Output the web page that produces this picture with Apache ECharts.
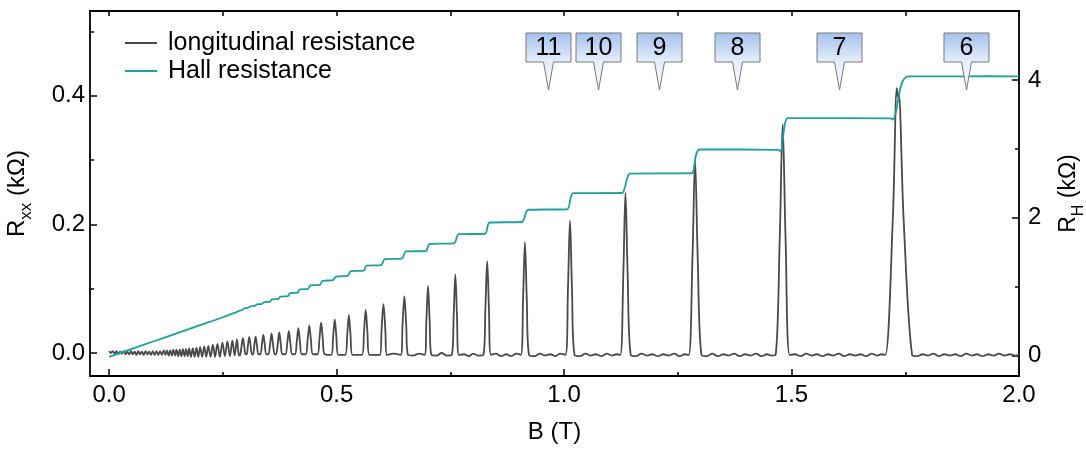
<!DOCTYPE html>
<html><head><meta charset="utf-8">
<script src="https://cdn.jsdelivr.net/npm/echarts@6/dist/echarts.min.js"></script>
<style>html,body{margin:0;padding:0;background:#fff}#c{width:1086px;height:450px}</style>
</head><body><div id="c"></div>
<script>
const xMajorTicks = [0, 0.5, 1.0, 1.5, 2.0];
const xMinorTicks = [0.25, 0.75, 1.25, 1.75];
const xTopTicks = [0, 0.25, 0.5, 0.75, 1.0, 1.25, 1.5, 1.75, 2.0];
const rxxMajorTicks = [0, 0.2, 0.4];
const rxxMinorTicks = [0.1, 0.3, 0.5];
const rhMajorTicks = [0, 2, 4];
const rhMinorTicks = [1, 3];
const legendNames = ['longitudinal resistance', 'Hall resistance'];
const calloutB = [0.964, 1.075, 1.209, 1.381, 1.605, 1.884];
const calloutTip = [0.409, 0.409, 0.409, 0.409, 0.409, 0.409];
const calloutLabels = ['11', '10', '9', '8', '7', '6'];

// longitudinal resistance Rxx (kOhm) vs B (T)
const rxxData = [
[0,0.003],[0.004,0.0],[0.008,0.003],[0.012,-0.001],[0.016,0.003],[0.02,-0.002],[0.024,0.002],[0.028,-0.001],[0.032,0.003],[0.036,-0.002],[0.04,0.002],[0.044,-0.002],[0.048,0.003],[0.052,-0.002],[0.056,0.002],[0.06,-0.003],[0.064,0.003],[0.068,-0.002],[0.072,0.002],[0.076,-0.003],[0.08,0.003],[0.084,-0.002],[0.088,0.002],[0.092,-0.003],[0.096,0.003],[0.1,-0.003],[0.104,0.003],[0.108,-0.003],[0.112,0.003],[0.116,-0.003],[0.12,0.004],
[0.124,-0.003],[0.127,0.004],[0.131,-0.004],[0.134,0.004],[0.138,-0.004],[0.141,0.005],[0.145,-0.004],[0.148,0.005],[0.152,-0.005],[0.155,0.005],[0.159,-0.005],[0.162,0.006],[0.166,-0.005],[0.169,0.006],[0.173,-0.005],[0.176,0.007],[0.18,-0.006],[0.184,0.007],[0.188,-0.006],[0.192,0.008],[0.196,-0.006],[0.2,0.009],
[0.2045,-0.006],[0.209,0.010],[0.2135,-0.006],[0.218,0.011],[0.223,-0.006],[0.228,0.013],[0.233,-0.006],[0.238,0.014],[0.2435,-0.006],[0.249,0.016],[0.2545,-0.005],[0.26,0.018],[0.2655,-0.005],[0.271,0.019],[0.276,-0.004],[0.281,0.021],[0.2855,-0.004],
[0.288,-0.003],[0.2912,0.0115],[0.294,0.023],[0.2968,0.0115],[0.300,-0.002],
[0.3025,-0.002],[0.3052,0.0122],[0.308,0.0245],[0.3108,0.0122],[0.314,-0.002],
[0.3165,-0.002],[0.3192,0.0128],[0.322,0.0255],[0.3248,0.0128],[0.3285,-0.002],
[0.3325,-0.002],[0.336,0.014],[0.339,0.028],[0.342,0.014],[0.3455,-0.002],
[0.350,-0.002],[0.354,0.015],[0.357,0.030],[0.360,0.015],[0.364,-0.002],
[0.367,-0.002],[0.371,0.016],[0.374,0.032],[0.377,0.016],[0.381,-0.002],
[0.3875,-0.002],[0.3918,0.017],[0.395,0.034],[0.3982,0.017],[0.4025,-0.002],
[0.4085,-0.002],[0.4127,0.019],[0.416,0.0385],[0.4193,0.019],[0.4235,-0.002],
[0.432,-0.002],[0.4365,0.021],[0.440,0.0425],[0.4435,0.021],[0.448,-0.002],
[0.458,-0.002],[0.4625,0.0235],[0.466,0.047],[0.4695,0.0235],[0.474,-0.002],
[0.488,-0.003],[0.4925,0.026],[0.496,0.052],[0.4995,0.026],[0.504,-0.003],
[0.519,-0.003],[0.5235,0.0295],[0.527,0.059],[0.5305,0.0295],[0.535,-0.003],
[0.556,-0.003],[0.5603,0.0335],[0.564,0.067],[0.5677,0.0335],[0.572,-0.003],
[0.595,-0.003],[0.599,0.038],[0.603,0.076],[0.607,0.038],[0.611,-0.003],
[0.626,-0.001],
[0.641,-0.003],[0.645,0.044],[0.649,0.088],[0.653,0.044],[0.657,-0.003],
[0.668,-0.004],[0.681,-0.001],
[0.6935,-0.003],[0.6975,0.052],[0.701,0.104],[0.7045,0.052],[0.7085,-0.003],
[0.72,-0.004],[0.731,0.0],[0.742,-0.004],
[0.753,-0.003],[0.7575,0.061],[0.761,0.122],[0.7645,0.061],[0.769,-0.003],
[0.78,-0.002],[0.791,-0.005],[0.80,-0.001],[0.811,-0.004],
[0.8225,-0.003],[0.8272,0.0715],[0.831,0.143],[0.8348,0.0715],[0.8395,-0.003],
[0.85,-0.001],[0.862,-0.005],[0.873,-0.002],[0.884,-0.005],[0.895,-0.001],
[0.905,-0.003],[0.910,0.086],[0.914,0.172],[0.918,0.086],[0.923,-0.003],
[0.935,-0.005],[0.947,-0.001],[0.958,-0.004],[0.97,-0.002],[0.981,-0.005],[0.992,-0.001],
[1.003,-0.003],[1.0087,0.103],[1.013,0.206],[1.0173,0.103],[1.023,-0.003],
[1.035,-0.005],[1.047,-0.001],[1.058,-0.004],[1.07,-0.002],[1.082,-0.005],[1.094,-0.001],[1.105,-0.004],[1.115,-0.002],
[1.1235,-0.003],[1.1303,0.1245],[1.135,0.249],[1.1397,0.1245],[1.1465,-0.003],
[1.158,-0.005],[1.17,-0.001],[1.182,-0.004],[1.194,-0.002],[1.206,-0.005],[1.218,-0.002],[1.23,-0.004],[1.242,-0.001],[1.254,-0.005],[1.265,-0.002],
[1.274,-0.003],[1.2823,0.15],[1.288,0.300],[1.2937,0.15],[1.302,-0.003],
[1.314,-0.005],[1.326,-0.001],[1.338,-0.005],[1.35,-0.002],[1.362,-0.004],[1.374,-0.001],[1.386,-0.005],[1.398,-0.002],[1.41,-0.004],[1.422,-0.001],[1.434,-0.005],[1.446,-0.002],[1.456,-0.004],
[1.465,-0.003],[1.4741,0.178],[1.4805,0.356],[1.4869,0.178],[1.496,-0.003],
[1.508,-0.002],[1.52,-0.005],[1.532,-0.001],[1.544,-0.004],[1.556,-0.002],[1.568,-0.005],[1.58,-0.002],[1.592,-0.004],[1.604,-0.001],[1.616,-0.005],[1.628,-0.002],[1.64,-0.004],[1.652,-0.002],[1.664,-0.005],[1.676,-0.001],[1.688,-0.004],[1.698,-0.002],
[1.706,-0.003],[1.7225,0.206],[1.7315,0.412],[1.7335,0.398],[1.7355,0.404],[1.7465,0.206],[1.765,-0.003],
[1.776,-0.005],[1.788,-0.002],[1.80,-0.004],[1.812,-0.001],[1.824,-0.005],[1.836,-0.002],[1.848,-0.004],[1.86,-0.002],[1.872,-0.005],[1.884,-0.001],[1.896,-0.004],[1.908,-0.002],[1.92,-0.005],[1.932,-0.002],[1.944,-0.004],[1.956,-0.001],[1.968,-0.004],[1.98,-0.002],[1.992,-0.004],[2.0,-0.003]
];

// Hall resistance RH (kOhm) vs B (T)
const hallData = [
[0,-0.02],[0.05,0.095],[0.1,0.21],[0.15,0.325],[0.2,0.44],[0.25,0.555],[0.28,0.63],[0.292,0.66],[0.298,0.685],[0.305,0.692],
[0.310,0.712],[0.320,0.719],[0.3245,0.742],[0.336,0.748],[0.3405,0.776],[0.354,0.782],[0.358,0.815],[0.372,0.821],
[0.3765,0.854],[0.393,0.860],[0.3975,0.905],[0.414,0.912],[0.4195,0.958],[0.437,0.966],[0.4425,1.016],[0.463,1.024],
[0.4695,1.084],[0.492,1.092],[0.4985,1.146],[0.524,1.154],[0.5315,1.223],[0.560,1.231],[0.5655,1.305],[0.598,1.312],
[0.606,1.398],[0.643,1.405],[0.653,1.510],[0.696,1.516],[0.7045,1.621],[0.758,1.628],[0.7685,1.760],[0.826,1.767],
[0.8365,1.930],[0.907,1.937],[0.9215,2.115],[1.006,2.122],[1.0205,2.355],[1.127,2.358],[1.134,2.45],[1.139,2.58],
[1.145,2.64],[1.281,2.645],[1.285,2.70],[1.289,2.88],[1.294,2.975],[1.300,2.99],[1.470,2.985],[1.476,2.965],
[1.481,3.15],[1.486,3.38],[1.492,3.445],[1.718,3.44],[1.723,3.425],[1.730,3.55],[1.740,3.90],[1.748,4.02],
[1.758,4.05],[1.85,4.05],[1.93,4.055],[2.0,4.05]
];

const FONT = '"Liberation Sans", Arial, sans-serif';
const X_MIN = -0.042, X_MAX = 2.0;
const RXX_MIN = -0.0358, RXX_MAX = 0.532;
const RH_MIN = -0.298, RH_MAX = 5.0;

const chart = echarts.init(document.getElementById('c'), null, {renderer: 'canvas'});

const axisLineStyle = {color: '#000', width: 1.8};
const tickStyle = {color: '#000', width: 1.5};

function xAxisBase(extra) {
  return Object.assign({
    type: 'value', min: X_MIN, max: X_MAX,
    splitLine: {show: false},
    axisLine: {show: false, onZero: false, lineStyle: axisLineStyle}
  }, extra);
}
function yAxisBase(min, max, extra) {
  return Object.assign({
    type: 'value', min: min, max: max,
    splitLine: {show: false},
    axisLine: {show: false, onZero: false, lineStyle: axisLineStyle}
  }, extra);
}

function renderCallout(params, api) {
  const p = api.coord([api.value(0), api.value(1)]);
  const x = Math.round(p[0]) + 0.5, y = Math.round(p[1]);
  const bw = 22.5, boxTop = y - 57, boxBot = y - 28, pw = 5;
  return {
    type: 'group',
    children: [
      {
        type: 'polygon',
        shape: {points: [[x - bw, boxTop], [x + bw, boxTop], [x + bw, boxBot], [x + pw, boxBot], [x, y], [x - pw, boxBot], [x - bw, boxBot]]},
        style: {
          fill: new echarts.graphic.LinearGradient(0, 0, 0, 1, [
            {offset: 0, color: '#a4c1ee'}, {offset: 0.5, color: '#e4edfa'}, {offset: 1, color: '#fbfcff'}
          ]),
          stroke: '#7a7a7a', lineWidth: 1
        }
      },
      {
        type: 'text',
        style: {
          text: calloutLabels[params.dataIndex], x: x, y: (boxTop + boxBot) / 2 + 1,
          align: 'center', verticalAlign: 'middle', fontSize: 25, fill: '#000', fontFamily: FONT
        }
      }
    ]
  };
}

const subRich = function (big, small) {
  return {
    r: {fontSize: big, fontFamily: FONT, color: '#000', lineHeight: 28},
    s: {fontSize: small, fontFamily: FONT, color: '#000', lineHeight: 28, verticalAlign: 'bottom', padding: [0, 0, -4, 0]}
  };
};

const option = {
  animation: false,
  backgroundColor: '#fff',
  textStyle: {fontFamily: FONT},
  grid: {left: 90, right: 67, top: 11, bottom: 74, containLabel: false, outerBoundsMode: 'none'},
  legend: {
    orient: 'vertical', left: 120, top: 24, itemWidth: 32, itemHeight: 2, itemGap: 0,
    icon: 'rect',
    data: legendNames,
    textStyle: {fontSize: 25, lineHeight: 28, color: '#000', fontFamily: FONT, padding: [0, 0, 0, 6]}
  },
  xAxis: [
    xAxisBase({
      position: 'bottom',
      axisLine: {show: true, onZero: false, lineStyle: axisLineStyle},
      axisTick: {show: true, inside: true, length: 7, customValues: xMajorTicks, lineStyle: tickStyle},
      axisLabel: {show: true, customValues: xMajorTicks, margin: 7, fontSize: 24, color: '#000', fontFamily: FONT,
        formatter: v => v.toFixed(1)},
      name: 'B (T)', nameLocation: 'middle', nameGap: 44,
      nameTextStyle: {fontSize: 24, color: '#000', fontFamily: FONT}
    }),
    xAxisBase({
      position: 'bottom',
      axisTick: {show: true, inside: true, length: 4, customValues: xMinorTicks, lineStyle: tickStyle},
      axisLabel: {show: false}
    }),
    xAxisBase({
      position: 'top',
      axisLine: {show: true, onZero: false, lineStyle: axisLineStyle},
      axisTick: {show: true, inside: true, length: 5, customValues: xTopTicks, lineStyle: tickStyle},
      axisLabel: {show: false}
    })
  ],
  yAxis: [
    yAxisBase(RXX_MIN, RXX_MAX, {
      position: 'left',
      axisLine: {show: true, onZero: false, lineStyle: axisLineStyle},
      axisTick: {show: true, inside: true, length: 7, customValues: rxxMajorTicks, lineStyle: tickStyle},
      axisLabel: {show: true, customValues: rxxMajorTicks, margin: 5, fontSize: 24, color: '#000', fontFamily: FONT,
        formatter: v => v.toFixed(1)},
      name: '{r|R}{s|xx}{r| (kΩ)}', nameLocation: 'middle', nameGap: 59, nameRotate: 90,
      nameTextStyle: {fontFamily: FONT, color: '#000', rich: subRich(24, 17)}
    }),
    yAxisBase(RXX_MIN, RXX_MAX, {
      position: 'left',
      axisTick: {show: true, inside: true, length: 4, customValues: rxxMinorTicks, lineStyle: tickStyle},
      axisLabel: {show: false}
    }),
    yAxisBase(RH_MIN, RH_MAX, {
      position: 'right',
      axisLine: {show: true, onZero: false, lineStyle: axisLineStyle},
      axisTick: {show: true, inside: true, length: 7, customValues: rhMajorTicks, lineStyle: tickStyle},
      axisLabel: {show: true, customValues: rhMajorTicks, margin: 9, fontSize: 24, color: '#000', fontFamily: FONT},
      name: '{r|R}{s|H}{r| (kΩ)}', nameLocation: 'middle', nameGap: 36, nameRotate: 90,
      nameTextStyle: {fontFamily: FONT, color: '#000', rich: subRich(23, 16)}
    }),
    yAxisBase(RH_MIN, RH_MAX, {
      position: 'right',
      axisTick: {show: true, inside: true, length: 4, customValues: rhMinorTicks, lineStyle: tickStyle},
      axisLabel: {show: false}
    })
  ],
  series: [
    {
      name: legendNames[0], type: 'line', xAxisIndex: 0, yAxisIndex: 0,
      data: rxxData, symbol: 'none', smooth: 0.35,
      lineStyle: {color: '#4a4a4a', width: 1.8}, itemStyle: {color: '#4a4a4a'}, z: 2
    },
    {
      name: legendNames[1], type: 'line', xAxisIndex: 0, yAxisIndex: 2,
      data: hallData, symbol: 'none', smooth: 0.3,
      lineStyle: {color: '#1ea0a0', width: 1.8}, itemStyle: {color: '#1ea0a0'}, z: 3
    },
    {
      name: 'callouts', type: 'custom', xAxisIndex: 0, yAxisIndex: 0,
      data: calloutB.map((b, i) => [b, calloutTip[i]]),
      renderItem: renderCallout, clip: false, silent: true, z: 10
    }
  ]
};
chart.setOption(option);
</script>
</body></html>
